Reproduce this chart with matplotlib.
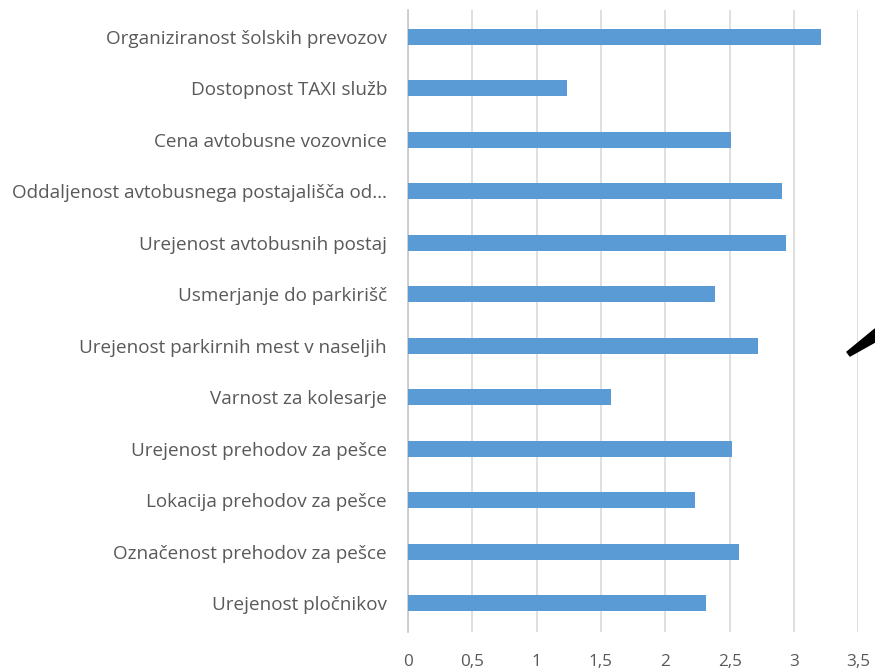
import numpy as np
import matplotlib.pyplot as plt
from matplotlib.patches import Polygon

categories = [
    'Organiziranost šolskih prevozov',
    'Dostopnost TAXI služb',
    'Cena avtobusne vozovnice',
    'Oddaljenost avtobusnega postajališča od…',
    'Urejenost avtobusnih postaj',
    'Usmerjanje do parkirišč',
    'Urejenost parkirnih mest v naseljih',
    'Varnost za kolesarje',
    'Urejenost prehodov za pešce',
    'Lokacija prehodov za pešce',
    'Označenost prehodov za pešce',
    'Urejenost pločnikov',
]
values = [3.21, 1.24, 2.51, 2.91, 2.94, 2.39, 2.72, 1.58, 2.52, 2.23, 2.57, 2.32]
xticks = [0, 0.5, 1, 1.5, 2, 2.5, 3, 3.5]
xtick_labels = ['0', '0,5', '1', '1,5', '2', '2,5', '3', '3,5']

bar_color = '#5B9BD5'
text_color = '#595959'
grid_color = '#D9D9D9'

plt.rcParams['font.family'] = ['Open Sans', 'DejaVu Sans']

fig = plt.figure(figsize=(8.75, 6.7), dpi=100)
ax = fig.add_axes([0.466, 0.057, 0.515, 0.928])

y = np.arange(len(categories))
ax.barh(y, values, height=0.31, color=bar_color, zorder=3)

ax.set_xlim(0, 3.5)
ax.set_ylim(len(categories) - 0.45, -0.52)
ax.set_yticks(y)
ax.set_yticklabels(categories, fontsize=13.6, color=text_color)
ax.set_xticks(xticks)
ax.set_xticklabels(xtick_labels, fontsize=12.3, color=text_color)
ax.tick_params(axis='both', length=0)
ax.tick_params(axis='y', pad=15)
ax.tick_params(axis='x', pad=16)

ax.grid(axis='x', color=grid_color, linewidth=1.2, zorder=0)
for side in ['top', 'right', 'bottom']:
    ax.spines[side].set_visible(False)
ax.spines['left'].set_color('#C8C8C8')
ax.spines['left'].set_linewidth(1.2)

# black arrow fragment at right edge
wedge = Polygon([(847 / 875, 1 - 352 / 670), (875 / 875, 1 - 329 / 670),
                 (875 / 875, 1 - 342 / 670), (850 / 875, 1 - 356 / 670)],
                closed=True, transform=fig.transFigure, color='black', zorder=10)
fig.patches.append(wedge)

fig.savefig('out.png', dpi=100)
